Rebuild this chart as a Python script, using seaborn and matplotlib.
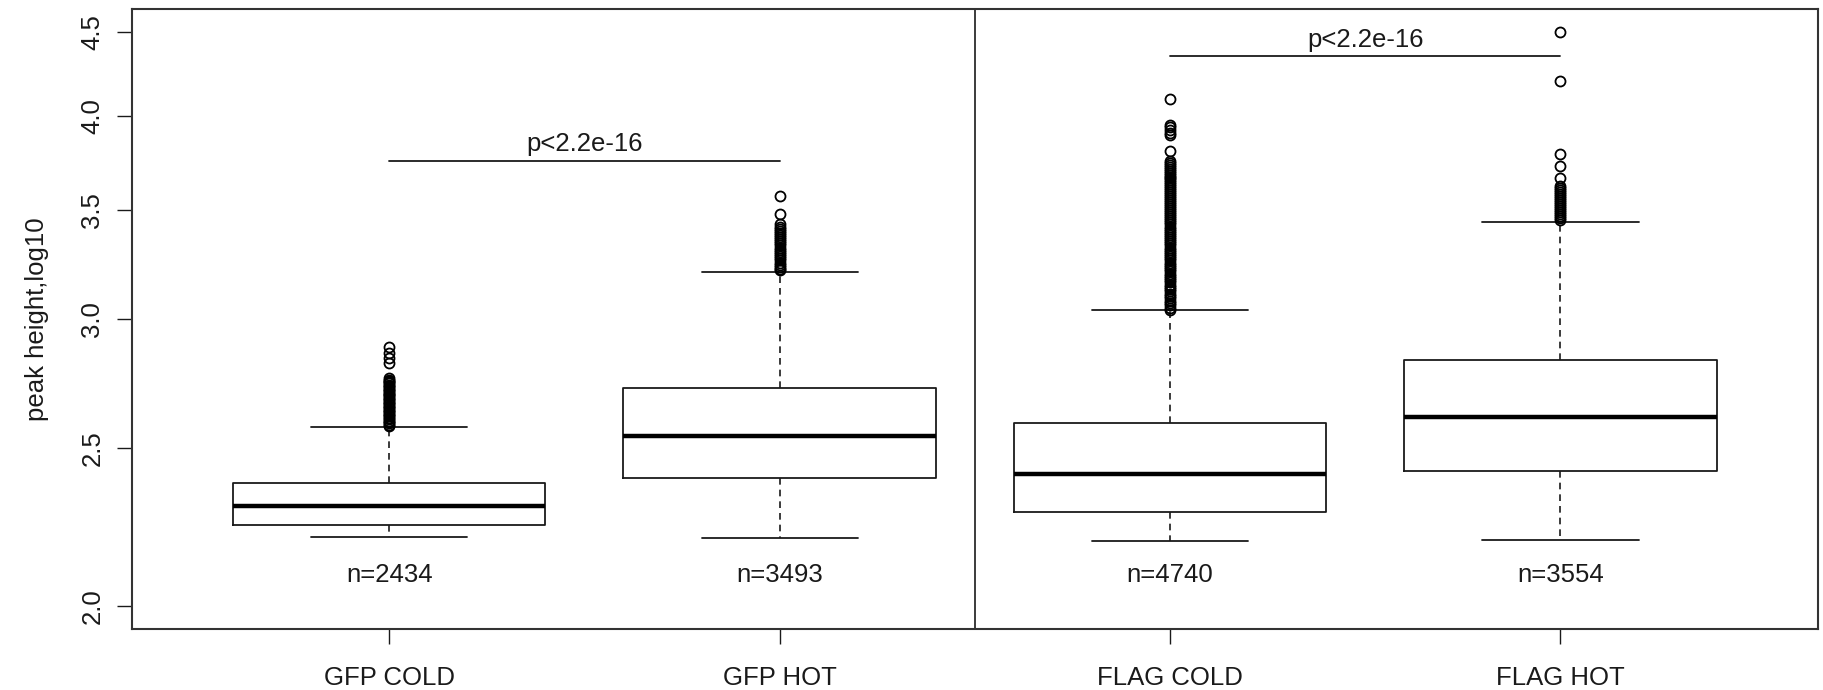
import numpy as np
import matplotlib
matplotlib.use("Agg")
import matplotlib.pyplot as plt
from matplotlib.ticker import NullLocator, NullFormatter
import seaborn as sns

# ================
# Data
# ================
groups = ["GFP COLD", "GFP HOT", "FLAG COLD", "FLAG HOT"]
counts = [2434, 3493, 4740, 3554]

whisker_low = [2.205, 2.204, 2.193, 2.196]
q1 = [2.244, 2.396, 2.286, 2.420]
median = [2.306, 2.545, 2.411, 2.613]
q3 = [2.380, 2.722, 2.590, 2.832]
whisker_high = [2.576, 3.209, 3.038, 3.442]

gfp_cold_out = [2.58, 2.585, 2.59, 2.595, 2.60, 2.605, 2.61, 2.615, 2.62, 2.625,
                2.63, 2.635, 2.64, 2.645, 2.65, 2.655, 2.66, 2.665, 2.67, 2.675,
                2.68, 2.685, 2.69, 2.695, 2.70, 2.705, 2.71, 2.715, 2.72, 2.725,
                2.73, 2.735, 2.74, 2.745, 2.75, 2.755, 2.76,
                2.82, 2.84, 2.86, 2.886]
gfp_hot_out = [3.215, 3.22, 3.23, 3.24, 3.25, 3.26, 3.27, 3.28, 3.29, 3.30,
               3.31, 3.32, 3.33, 3.34, 3.35, 3.36, 3.37, 3.38, 3.39, 3.40,
               3.41, 3.42, 3.43, 3.48, 3.57]
flag_cold_out = [3.04, 3.05, 3.06, 3.07, 3.08, 3.09, 3.10, 3.11, 3.12, 3.13,
                 3.14, 3.15, 3.16, 3.17, 3.18, 3.19, 3.20, 3.21, 3.22, 3.23,
                 3.24, 3.25, 3.26, 3.27, 3.28, 3.29, 3.30, 3.31, 3.32, 3.33,
                 3.34, 3.35, 3.36, 3.37, 3.38, 3.39, 3.40, 3.41, 3.42, 3.43,
                 3.44, 3.45, 3.46, 3.47, 3.48, 3.49, 3.50, 3.51, 3.52, 3.53,
                 3.54, 3.55, 3.56, 3.57, 3.58, 3.59, 3.60, 3.61, 3.62, 3.63,
                 3.64, 3.65, 3.66, 3.67, 3.68, 3.69, 3.70, 3.71, 3.72, 3.73,
                 3.74, 3.75, 3.806, 3.89, 3.905, 3.92, 3.935, 3.948, 4.097]
flag_hot_out = [3.45, 3.46, 3.47, 3.48, 3.49, 3.50, 3.51, 3.52, 3.53, 3.54,
                3.55, 3.56, 3.57, 3.58, 3.59, 3.60, 3.61, 3.62, 3.66, 3.726,
                3.789, 4.20, 4.50]
outliers = [gfp_cold_out, gfp_hot_out, flag_cold_out, flag_hot_out]

pval_label = "p<2.2e-16"
pval_pairs = [(0, 1), (2, 3)]
pval_line_y = [3.75, 4.35]
pval_text_y = [3.84, 4.45]

n_label_y = 2.09
y_ticks = [2.0, 2.5, 3.0, 3.5, 4.0, 4.5]
y_ticklabels = ["2.0", "2.5", "3.0", "3.5", "4.0", "4.5"]
y_range = (2.0, 4.5)

# ================
# Style
# ================
sns.set_style("ticks")
plt.rcParams["font.family"] = ["Liberation Sans", "DejaVu Sans"]
ink = "#1a1a1a"
fs = 18.5

fig = plt.figure(figsize=(18.24, 6.90), dpi=100)
ax = fig.add_axes([0.0721, 0.0880, 0.9247, 0.8986])

# ================
# Boxes
# ================
stats = []
for i, g in enumerate(groups):
    stats.append({
        "label": g,
        "whislo": whisker_low[i],
        "q1": q1[i],
        "med": median[i],
        "q3": q3[i],
        "whishi": whisker_high[i],
        "fliers": np.array(outliers[i]),
    })

positions = np.arange(1, len(groups) + 1)
ax.bxp(
    stats, positions=positions, widths=0.8, capwidths=0.4,
    boxprops=dict(color=ink, linewidth=1.3),
    medianprops=dict(color="black", linewidth=3.2, solid_capstyle="butt"),
    whiskerprops=dict(color=ink, linewidth=1.2, linestyle=(0, (4, 3))),
    capprops=dict(color=ink, linewidth=1.3),
    flierprops=dict(marker="o", markerfacecolor="none", markeredgecolor="black",
                    markersize=7.2, markeredgewidth=1.3, linestyle="none"),
    manage_ticks=False,
)

# divider between GFP and FLAG
ax.axvline(2.5, color=ink, linewidth=1.2)

# p-value brackets
for (a, b), ly, ty in zip(pval_pairs, pval_line_y, pval_text_y):
    ax.plot([positions[a], positions[b]], [ly, ly], color=ink, linewidth=1.3)
    ax.text((positions[a] + positions[b]) / 2, ty, pval_label,
            ha="center", va="center", fontsize=fs, color=ink)

# counts
for p, n in zip(positions, counts):
    ax.text(p, n_label_y, f"n={n}", ha="center", va="center", fontsize=fs, color=ink)

# ================
# Axes
# ================
ax.set_yscale("log")
lo, hi = np.log10(y_range[0]), np.log10(y_range[1])
pad = 0.04 * (hi - lo)
ax.set_ylim(10 ** (lo - pad), 10 ** (hi + pad))
ax.set_xlim(0.5 - 0.04 * 4, 4.5 + 0.04 * 4)

ax.set_yticks(y_ticks)
ax.set_yticklabels(y_ticklabels, rotation=90, va="center")
ax.yaxis.set_minor_locator(NullLocator())
ax.yaxis.set_minor_formatter(NullFormatter())
ax.set_xticks(positions)
ax.set_xticklabels(groups)

ax.tick_params(axis="both", which="major", length=10.5, width=1.0, color=ink,
               labelsize=fs, labelcolor=ink, direction="out")
ax.tick_params(axis="x", pad=16)
ax.tick_params(axis="y", pad=9)

ax.set_ylabel("peak height,log10", fontsize=fs, color=ink)
ax.yaxis.set_label_coords(-0.049, 0.5)

for s in ax.spines.values():
    s.set_color("#333333")
    s.set_linewidth(1.5)
    s.set_visible(True)

ax.set_facecolor("white")
fig.patch.set_facecolor("white")

fig.savefig("out.png", dpi=100, facecolor="white")
